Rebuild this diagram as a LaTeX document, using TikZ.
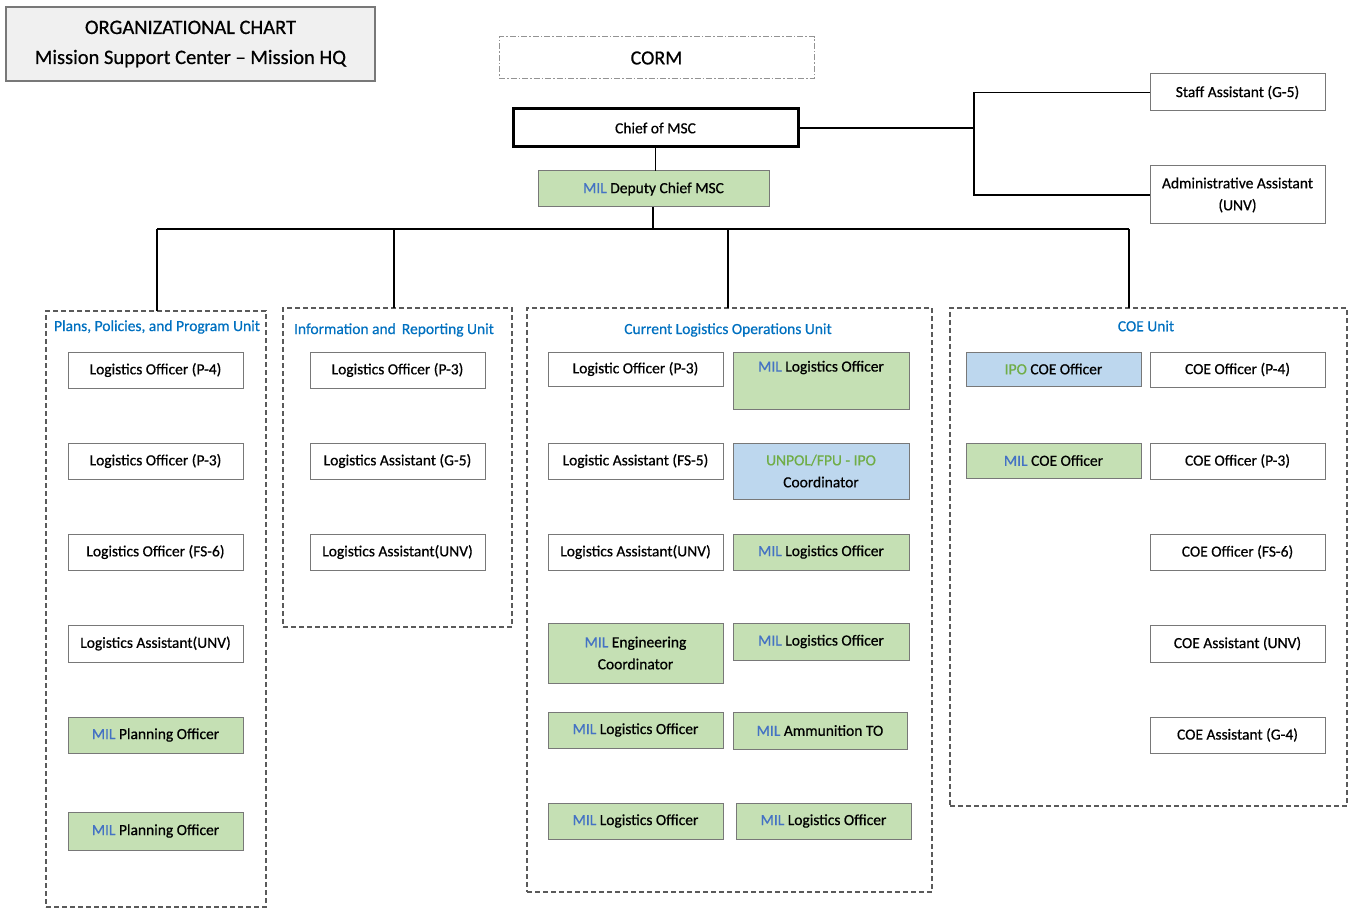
\documentclass[tikz,border=0pt]{standalone}
\usepackage{fontspec}
\setmainfont{Carlito}[FakeBold=0.6]
\definecolor{boxgray}{RGB}{120,120,120}
\definecolor{unitgray}{RGB}{90,90,90}
\definecolor{milgreen}{RGB}{197,224,180}
\definecolor{ipoblue}{RGB}{189,215,238}
\definecolor{milblue}{RGB}{68,114,196}
\definecolor{titleblue}{RGB}{0,112,192}
\definecolor{ipogreen}{RGB}{112,173,71}
\definecolor{headfill}{RGB}{240,240,240}
\newcommand\MIL{\textcolor{milblue}{MIL}}
\newcommand\IPO{\textcolor{ipogreen}{IPO}}
% \pbox{name}{x1}{y1}{x2}{y2}{style}{text}
\newcommand\pbox[7]{\node[#6, minimum width={(#4-#2)*1pt}, minimum height={(#5-#3)*1pt}] (#1) at ({(#2+#4)/2},{(#3+#5)/2}) {#7};}
\begin{document}
\begin{tikzpicture}[x=1pt,y=-1pt,
  post/.style={draw=boxgray, line width=1pt, fill=white, inner sep=1pt, outer sep=0pt,
    align=center, text=black, font=\fontsize{15.5}{22}\selectfont},
  milpost/.style={post, fill=milgreen},
  ipopost/.style={post, fill=ipoblue},
  unitbox/.style={draw=unitgray, line width=1.5pt, dash pattern=on 5pt off 3pt, inner sep=0pt, outer sep=0pt},
  unittitle/.style={text=titleblue, inner sep=0pt, font=\fontsize{15.5}{18}\selectfont},
  link/.style={draw=black, line width=1.4pt}]
\useasboundingbox (0,0) rectangle (1349,909);

% heading and top level
\pbox{head}{6}{7}{375}{81}{post, fill=headfill, draw=boxgray, line width=1.2pt, font=\fontsize{20.5}{30}\selectfont}{ORGANIZATIONAL CHART\\Mission Support Center -- Mission HQ}
\pbox{corm}{499}{37}{814}{79}{post, draw=boxgray!80, dash pattern=on 6pt off 2pt on 1.5pt off 2pt, font=\fontsize{20}{24}\selectfont}{CORM}
\pbox{chief}{513}{109}{798}{147}{post, draw=black, line width=3pt}{Chief of MSC}
\pbox{deputy}{538}{171}{769}{207}{milpost}{\MIL{} Deputy Chief MSC}
\pbox{staff}{1150}{74}{1325}{111}{post}{Staff Assistant (G-5)}
\pbox{admin}{1150}{166}{1325}{224}{post}{Administrative Assistant\\(UNV)}

% unit frames
\pbox{u1}{46}{311}{266}{907}{unitbox}{}
\pbox{u2}{283}{308}{512}{627}{unitbox}{}
\pbox{u3}{527}{308}{932}{892}{unitbox}{}
\pbox{u4}{950}{308}{1347}{806}{unitbox}{}
\node[unittitle] (t1) at (157,327) {Plans, Policies, and Program Unit};
\node[unittitle] (t2) at (394,330) {Information and\, Reporting Unit};
\node[unittitle] (t3) at (728,330) {Current Logistics Operations Unit};
\node[unittitle] (t4) at (1146,326) {COE Unit};

% Plans, Policies, and Program Unit
\pbox{a1}{68}{352}{243}{388}{post}{Logistics Officer (P-4)}
\pbox{a2}{68}{443}{243}{479}{post}{Logistics Officer (P-3)}
\pbox{a3}{68}{534}{243}{570}{post}{Logistics Officer (FS-6)}
\pbox{a4}{68}{625}{243}{662}{post}{Logistics Assistant(UNV)}
\pbox{a5}{68}{717}{243}{753}{milpost}{\MIL{} Planning Officer}
\pbox{a6}{68}{812}{243}{850}{milpost}{\MIL{} Planning Officer}

% Information and Reporting Unit
\pbox{b1}{310}{352}{485}{388}{post}{Logistics Officer (P-3)}
\pbox{b2}{310}{443}{485}{479}{post}{Logistics Assistant (G-5)}
\pbox{b3}{310}{534}{485}{570}{post}{Logistics Assistant(UNV)}

% Current Logistics Operations Unit
\pbox{c1}{548}{352}{723}{386}{post}{Logistic Officer (P-3)}
\pbox{c2}{733}{352}{909}{409}{milpost}{\MIL{} Logistics Officer\\\strut}
\pbox{c3}{548}{443}{723}{479}{post}{Logistic Assistant (FS-5)}
\pbox{c4}{733}{443}{909}{499}{ipopost}{\textcolor{ipogreen}{UNPOL/FPU - IPO}\\Coordinator}
\pbox{c5}{548}{534}{723}{570}{post}{Logistics Assistant(UNV)}
\pbox{c6}{733}{534}{909}{570}{milpost}{\MIL{} Logistics Officer}
\pbox{c7}{548}{623}{723}{683}{milpost}{\MIL{} Engineering\\Coordinator}
\pbox{c8}{733}{623}{909}{660}{milpost}{\MIL{} Logistics Officer}
\pbox{c9}{548}{712}{723}{748}{milpost}{\MIL{} Logistics Officer}
\pbox{c10}{733}{712}{907}{749}{milpost}{\MIL{} Ammunition TO}
\pbox{c11}{548}{803}{723}{839}{milpost}{\MIL{} Logistics Officer}
\pbox{c12}{736}{803}{911}{839}{milpost}{\MIL{} Logistics Officer}

% COE Unit
\pbox{d1}{966}{352}{1141}{386}{ipopost}{\IPO{} COE Officer}
\pbox{d2}{1150}{352}{1325}{387}{post}{COE Officer (P-4)}
\pbox{d3}{966}{443}{1141}{478}{milpost}{\MIL{} COE Officer}
\pbox{d4}{1150}{443}{1325}{479}{post}{COE Officer (P-3)}
\pbox{d5}{1150}{534}{1325}{570}{post}{COE Officer (FS-6)}
\pbox{d6}{1150}{625}{1325}{662}{post}{COE Assistant (UNV)}
\pbox{d7}{1150}{717}{1325}{753}{post}{COE Assistant (G-4)}

% connectors
\coordinate (bus) at (653,229);
\coordinate (busL) at (157,229);
\coordinate (busR) at (1129,229);
\coordinate (side) at (974,128);
\coordinate (drop2) at (394,308);
\coordinate (drop3) at (728,308);
\coordinate (drop4) at (1129,308);
\draw[link] (chief.south) -- (chief.south |- deputy.north);
\draw[link] (deputy.south -| bus) -- (bus);
\draw[link] (busL) -- (busR);
\draw[link] (busL) -- (busL |- u1.north);
\draw[link] (drop2 |- bus) -- (drop2);
\draw[link] (drop3 |- bus) -- (drop3);
\draw[link] (busR) -- (drop4);
\draw[link] (chief.east) -- (side);
\draw[link] (staff.west) -- (staff.west -| side) -- (admin.west -| side) -- (admin.west);
\end{tikzpicture}
\end{document}
